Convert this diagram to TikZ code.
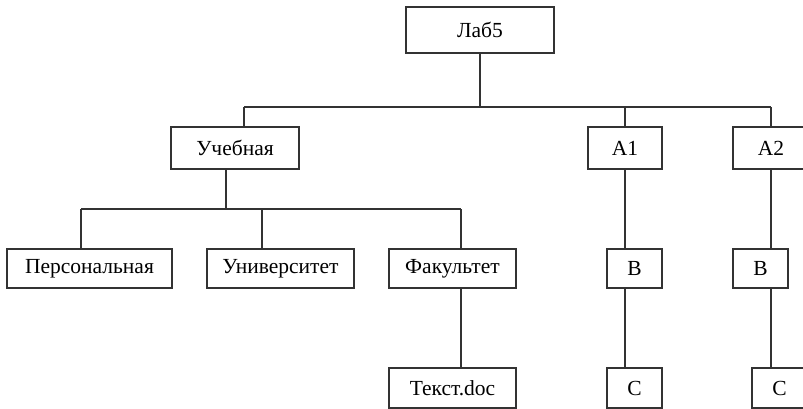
\documentclass[tikz,border=0pt]{standalone}
\usepackage{fontspec}
\setmainfont{Liberation Serif}
\usetikzlibrary{calc}
\begin{document}
\begin{tikzpicture}[x=1pt,y=-1pt,
  box/.style={draw=black!80,line width=1.6pt,fill=white,inner sep=0pt,
    font=\fontsize{21.5}{24}\selectfont},
  conn/.style={draw=black!80,line width=1.6pt}]
\useasboundingbox (0,0) rectangle (803,409);
\clip (0,0) rectangle (803,409);
% nodes
\node[box,minimum width=148,minimum height=46] (lab) at (480,30) {Лаб5};
\node[box,minimum width=128,minimum height=42] (uch) at (235,148) {Учебная};
\node[box,minimum width=74,minimum height=42] (a1) at (625,148) {A1};
\node[box,minimum width=76,minimum height=42] (a2) at (771,148) {A2};
\node[box,minimum width=165,minimum height=39] (pers) at (89.5,268.5) {Персональная};
\node[box,minimum width=147,minimum height=39] (univ) at (280.5,268.5) {Университет};
\node[box,minimum width=127,minimum height=39] (fak) at (452.5,268.5) {Факультет};
\node[box,minimum width=55,minimum height=39] (b1) at (634.5,268.5) {B};
\node[box,minimum width=55,minimum height=39] (b2) at (760.5,268.5) {B};
\node[box,minimum width=127,minimum height=40] (txt) at (452.5,388) {Текст.doc};
\node[box,minimum width=55,minimum height=40] (c1) at (634.5,388) {C};
\node[box,minimum width=55,minimum height=40] (c2) at (779.5,388) {C};
% bus coordinates
\coordinate (bus1) at (480,107);
\coordinate (bus2) at (226,209);
% level 1
\draw[conn] (lab.south) -- (bus1);
\draw[conn] ([xshift=9pt]uch.north |- bus1) -- (a2.north |- bus1);
\draw[conn] ([xshift=9pt]uch.north) -- ([xshift=9pt]uch.north |- bus1);
\draw[conn] (a1.north) -- (a1.north |- bus1);
\draw[conn] (a2.north) -- (a2.north |- bus1);
% level 2
\draw[conn] ([xshift=-9pt]uch.south) -- (bus2);
\draw[conn] ([xshift=-8.5pt]pers.north |- bus2) -- ([xshift=8.5pt]fak.north |- bus2);
\draw[conn] ([xshift=-8.5pt]pers.north) -- ([xshift=-8.5pt]pers.north |- bus2);
\draw[conn] ([xshift=-18.5pt]univ.north) -- ([xshift=-18.5pt]univ.north |- bus2);
\draw[conn] ([xshift=8.5pt]fak.north) -- ([xshift=8.5pt]fak.north |- bus2);
\draw[conn] (a1.south) -- (a1.south |- b1.north);
\draw[conn] (a2.south) -- (a2.south |- b2.north);
% level 3
\draw[conn] ([xshift=8.5pt]fak.south) -- ([xshift=8.5pt]fak.south |- txt.north);
\draw[conn] (a1.south |- b1.south) -- (a1.south |- c1.north);
\draw[conn] (a2.south |- b2.south) -- (a2.south |- c2.north);
\end{tikzpicture}
\end{document}
